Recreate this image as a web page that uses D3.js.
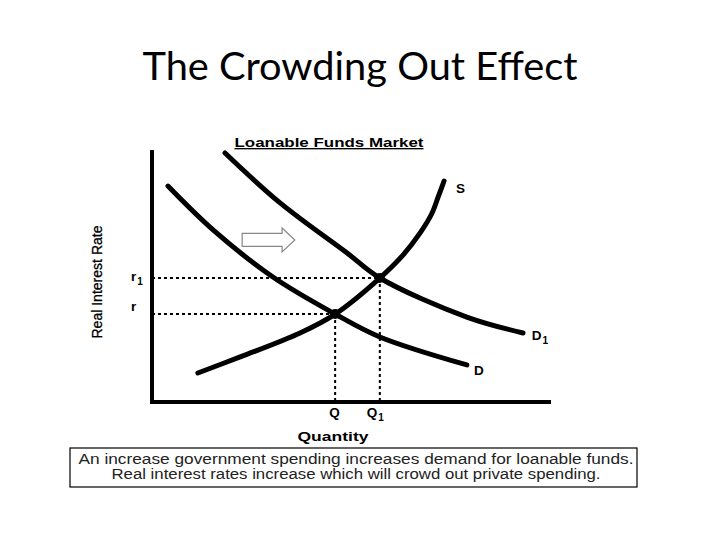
<!DOCTYPE html>
<html>
<head>
<meta charset="utf-8">
<script src="https://cdn.jsdelivr.net/npm/d3@7"></script>
<style>
  body { margin: 0; background: #fff; }
  svg { display: block; }
</style>
</head>
<body>
<div id="chart"></div>
<script>
// curve points (quantity 0-100, rate 0-100)
const demand = [[4.0, 85.7], [15.3, 68.3], [30.3, 49.6], [45.9, 34.9], [57.1, 25.8], [78.9, 14.7]];
const demand1 = [[18.3, 98.8], [32.1, 79.0], [48.9, 59.1], [57.1, 49.2], [78.9, 33.7], [93.0, 27.4]];
const supply = [[11.5, 11.5], [22.1, 17.9], [37.1, 27.4], [45.9, 34.9], [57.1, 49.2], [62.9, 58.3],
    [67.2, 67.1], [70.2, 75.0], [71.7, 81.3], [73.2, 87.7]];

// equilibria
const equilibria = [
    { q: 45.9, r: 34.9, qLabel: "Q", rLabel: "r", sub: "" },
    { q: 57.1, r: 49.2, qLabel: "Q", rLabel: "r", sub: "1" }
];

const curveLabels = [
    { name: "S", sub: "", at: [76.2, 82.9] },
    { name: "D", sub: "1", at: [95.2, 24.6] },
    { name: "D", sub: "", at: [80.7, 10.7] }
];

const captionLines = [
    "An increase government spending increases demand for loanable funds.",
    "Real interest rates increase which will crowd out private spending."
];

var width = 720;
var height = 540;
var svg = d3.select("#chart")
    .append("svg")
    .attr("width", width)
    .attr("height", height);

// plot area (axis corner at 152,402)
const x = d3.scaleLinear().domain([0, 100]).range([152, 551]);
const y = d3.scaleLinear().domain([0, 100]).range([402, 150]);

// title
svg.append("text")
    .attr("x", 360)
    .attr("y", 80)
    .attr("text-anchor", "middle")
    .attr("font-family", "Lato, 'Open Sans', sans-serif")
    .attr("font-size", 38)
    .attr("textLength", 435)
    .attr("lengthAdjust", "spacingAndGlyphs")
    .text("The Crowding Out Effect");

// chart heading
svg.append("text")
    .attr("x", 329)
    .attr("y", 147)
    .attr("text-anchor", "middle")
    .attr("font-family", "'Liberation Sans', Arial, sans-serif")
    .attr("font-weight", "bold")
    .attr("font-size", 13.5)
    .attr("textLength", 189)
    .attr("lengthAdjust", "spacingAndGlyphs")
    .attr("text-decoration", "underline")
    .text("Loanable Funds Market");

// dotted guide lines
const guides = svg.append("g")
    .attr("stroke", "#000")
    .attr("stroke-width", 2)
    .attr("stroke-dasharray", "3,3");

equilibria.forEach(e => {
    guides.append("line")
        .attr("x1", x(0)).attr("x2", x(e.q))
        .attr("y1", y(e.r)).attr("y2", y(e.r));
    guides.append("line")
        .attr("x1", x(e.q)).attr("x2", x(e.q))
        .attr("y1", y(e.r)).attr("y2", y(0));
});

// curves
const line = d3.line()
    .x(d => x(d[0]))
    .y(d => y(d[1]))
    .curve(d3.curveCatmullRom.alpha(0.5));

[demand, demand1, supply].forEach(pts => {
    svg.append("path")
        .attr("d", line(pts))
        .attr("fill", "none")
        .attr("stroke", "#000")
        .attr("stroke-width", 5)
        .attr("stroke-linecap", "round");
});

// equilibrium dots
svg.selectAll(".eq")
    .data(equilibria)
    .join("circle")
    .attr("class", "eq")
    .attr("cx", d => x(d.q))
    .attr("cy", d => y(d.r))
    .attr("r", 5)
    .attr("fill", "#000");

// axes (plain heavy lines)
svg.append("path")
    .attr("d", `M${x(0)},${y(100)}V${y(0)}H${x(100)}`)
    .attr("fill", "none")
    .attr("stroke", "#000")
    .attr("stroke-width", 4);

// shift arrow (hollow)
const ax0 = x(22.6), ax1 = x(32.6), ax2 = x(35.8);
const ay = y(64.3);
svg.append("path")
    .attr("d", `M${ax0},${ay - 6.5}H${ax1}V${ay - 12}L${ax2},${ay}L${ax1},${ay + 12}V${ay + 6.5}H${ax0}Z`)
    .attr("fill", "#fff")
    .attr("stroke", "#888")
    .attr("stroke-width", 1.2);

// label helper with subscript
const labelFont = "'Liberation Sans', Arial, sans-serif";
function label(px, py, main, sub, anchor) {
    const t = svg.append("text")
        .attr("x", px)
        .attr("y", py)
        .attr("text-anchor", anchor || "start")
        .attr("font-family", labelFont)
        .attr("font-weight", "bold")
        .attr("font-size", 13.5)
        .text(main);
    if (sub) {
        t.append("tspan")
            .attr("font-size", 10)
            .attr("dx", 1)
            .attr("dy", 4)
            .text(sub);
    }
}

curveLabels.forEach(c => label(x(c.at[0]), y(c.at[1]), c.name, c.sub));

equilibria.forEach(e => {
    label(131, y(e.r) + (e.sub ? 3 : -3), e.rLabel, e.sub);
    label(x(e.q) - (e.sub ? 13 : 6), 417, e.qLabel, e.sub);
});

// axis titles
svg.append("text")
    .attr("x", 333)
    .attr("y", 441)
    .attr("text-anchor", "middle")
    .attr("font-family", labelFont)
    .attr("font-weight", "bold")
    .attr("font-size", 13.5)
    .attr("textLength", 71)
    .attr("lengthAdjust", "spacingAndGlyphs")
    .text("Quantity");

svg.append("text")
    .attr("transform", "translate(102,282) rotate(-90)")
    .attr("text-anchor", "middle")
    .attr("font-family", labelFont)
    .attr("font-size", 15)
    .attr("stroke", "#000")
    .attr("stroke-width", 0.3)
    .attr("textLength", 113)
    .attr("lengthAdjust", "spacingAndGlyphs")
    .text("Real Interest Rate");

// caption box
svg.append("rect")
    .attr("x", 70)
    .attr("y", 448)
    .attr("width", 567)
    .attr("height", 39)
    .attr("fill", "#fff")
    .attr("stroke", "#000")
    .attr("stroke-width", 1.2);

const captionLengths = [555, 489];
captionLines.forEach((txt, i) => {
    svg.append("text")
        .attr("x", 356)
        .attr("y", 464 + i * 15)
        .attr("text-anchor", "middle")
        .attr("font-family", labelFont)
        .attr("font-size", 14)
        .attr("fill", "#222")
        .attr("textLength", captionLengths[i])
        .attr("lengthAdjust", "spacingAndGlyphs")
        .text(txt);
});
</script>
</body>
</html>
